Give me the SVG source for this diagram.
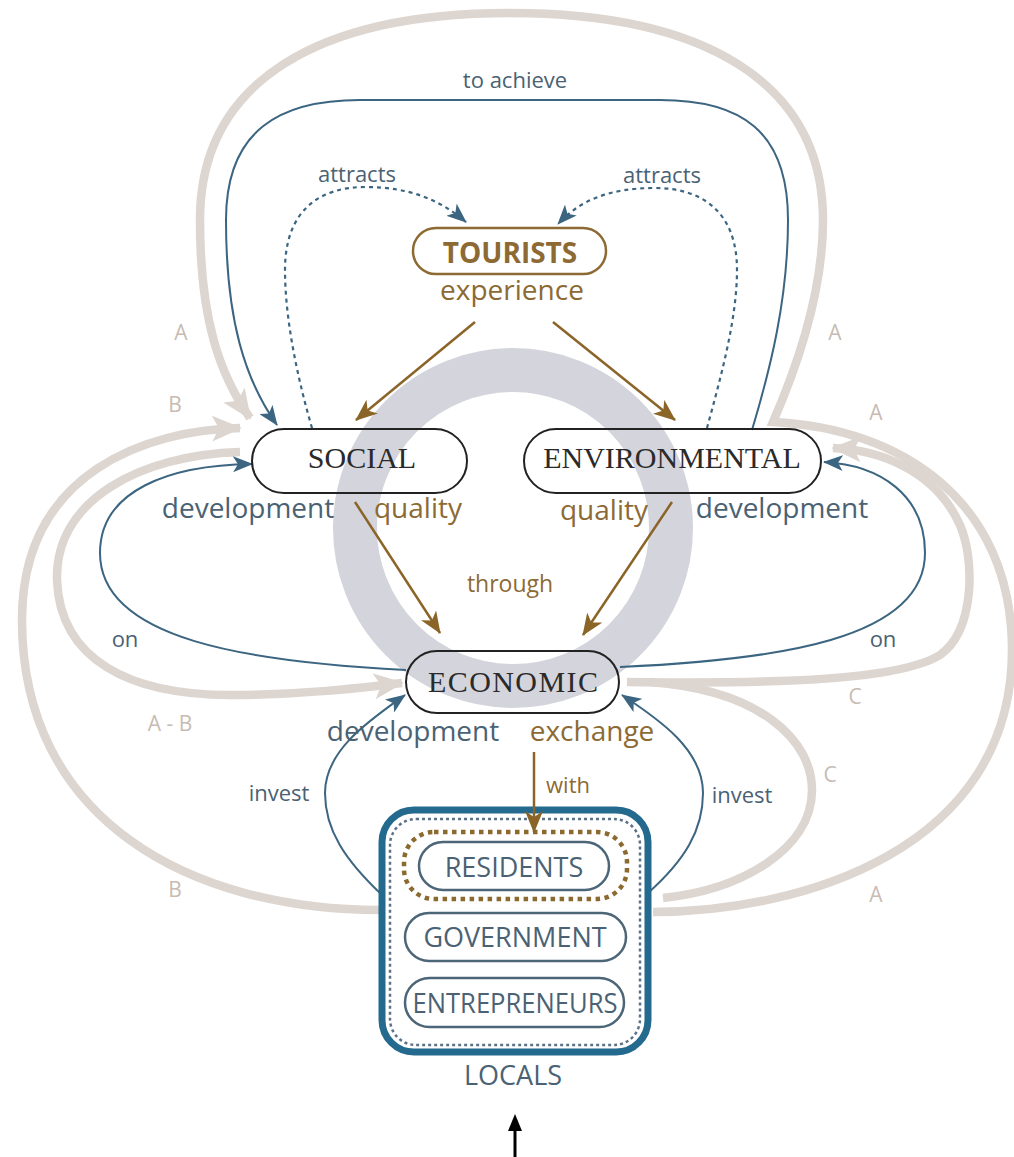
<svg xmlns="http://www.w3.org/2000/svg" width="1014" height="1157" viewBox="0 0 1014 1157">
<style>
.g{fill:none;stroke:#ddd5cf;stroke-width:8.5;stroke-linecap:butt}
.b{fill:none;stroke:#3b6580;stroke-width:2}
.bd{fill:none;stroke:#3b6580;stroke-width:2.2;stroke-dasharray:4 4}
.br{fill:none;stroke:#8b6428;stroke-width:2.5}
.node{fill:none;stroke:#222;stroke-width:2}
.nt{font-family:"Liberation Serif","Times New Roman",serif;font-size:30px;fill:#2a2a2a;text-anchor:middle}
.lb{font-family:"Open Sans","Noto Sans",sans-serif;fill:#4a6274;text-anchor:middle}
.lbr{font-family:"Open Sans","Noto Sans",sans-serif;fill:#8d6a33;text-anchor:middle}
.lg{font-family:"Open Sans","Noto Sans",sans-serif;font-size:21px;fill:#c7bbb3;text-anchor:middle}
.pill{fill:none;stroke:#4c6577;stroke-width:2.5}
.pt{font-family:"Open Sans","Noto Sans",sans-serif;font-size:27px;fill:#4a6274;text-anchor:middle}
</style>
<defs>
<marker id="ab" viewBox="0 0 20 16" refX="19" refY="8" markerWidth="20" markerHeight="16" orient="auto" markerUnits="userSpaceOnUse"><path d="M0,0 L20,8 L0,16 L5,8 Z" fill="#3b6580"/></marker>
<marker id="abr" viewBox="0 0 22 18" refX="21" refY="9" markerWidth="22" markerHeight="18" orient="auto" markerUnits="userSpaceOnUse"><path d="M0,0 L22,9 L0,18 L6,9 Z" fill="#8b6428"/></marker>
<marker id="ag" viewBox="0 0 30 26" refX="28" refY="13" markerWidth="30" markerHeight="26" orient="auto" markerUnits="userSpaceOnUse"><path d="M0,0 L30,13 L0,26 L7,13 Z" fill="#ddd5cf"/></marker>
</defs>
<rect width="1014" height="1157" fill="#fff"/>
<circle cx="513" cy="528" r="158" fill="none" stroke="#d4d4dc" stroke-width="44"/>
<g id="connectors">
<path class="g" d="M653,912 C800,912 1012,850 1012,650 C1012,500 900,428 773,422 C800,360 823,290 823,220 C823,80 700,13 510,13 C320,13 200,80 200,220 C200,320 220,375 250,418" marker-end="url(#ag)"/>
<path class="g" d="M380,910 C190,910 22,820 22,620 C22,470 150,430 240,428" marker-end="url(#ag)"/>
<path class="g" d="M240,452 C140,455 55,500 57,580 C60,660 130,695 230,695 C300,695 360,688 402,683" marker-end="url(#ag)"/>
<path class="g" d="M627,682 C780,684 900,680 940,655 C975,630 975,560 960,525 C935,470 880,450 833,448" marker-end="url(#ag)"/>
<path class="g" d="M650,682 C760,690 812,740 812,790 C812,850 740,890 663,898"/>
<path class="b" d="M752,430 C770,370 788,300 788,220 C788,130 740,100 660,100 L360,100 C280,100 226,130 226,220 C226,320 245,380 277,425" marker-end="url(#ab)"/>
<path class="bd" d="M312,428 C298,380 285,320 285,270 C285,210 320,187 365,187 C410,187 440,200 466,222" marker-end="url(#ab)"/>
<path class="bd" d="M707,428 C720,380 737,320 737,270 C737,210 700,188 655,188 C610,188 580,200 558,224" marker-end="url(#ab)"/>
<path class="b" d="M406,670 C250,662 100,640 100,553 C100,490 170,465 252,464" marker-end="url(#ab)"/>
<path class="b" d="M620,667 C775,660 925,640 925,553 C925,495 880,465 824,462" marker-end="url(#ab)"/>
<path class="b" d="M382,895 C345,860 325,830 325,793 C325,750 370,720 405,695" marker-end="url(#ab)"/>
<path class="b" d="M648,893 C685,860 703,830 703,793 C703,750 660,720 622,695" marker-end="url(#ab)"/>
<path class="br" d="M475,322 L356,420" marker-end="url(#abr)"/>
<path class="br" d="M553,322 L675,420" marker-end="url(#abr)"/>
<path class="br" d="M355,502 L440,633" marker-end="url(#abr)"/>
<path class="br" d="M672,502 L583,635" marker-end="url(#abr)"/>
<path d="M515,1157 L515,1128" stroke="#000" stroke-width="3" fill="none"/>
<path d="M515,1114 L508,1131 L522,1131 Z" fill="#000"/>
</g>
<g id="tourists">
<rect x="413" y="228" width="193" height="46" rx="23" fill="none" stroke="#8d6a33" stroke-width="2.5"/>
<text x="510" y="263" font-family="'Open Sans','Noto Sans',sans-serif" font-size="28" font-weight="bold" fill="#8d6a33" text-anchor="middle">TOURISTS</text>
</g>
<g id="social">
<rect class="node" x="252" y="429" width="215" height="64" rx="32"/>
<text class="nt" x="362" y="468">SOCIAL</text>
</g>
<g id="environmental">
<rect class="node" x="524" y="429" width="297" height="64" rx="32"/>
<text class="nt" x="672" y="468">ENVIRONMENTAL</text>
</g>
<g id="economic">
<rect class="node" x="406" y="651" width="213" height="62" rx="31"/>
<text class="nt" x="513" y="692" fill="#3d3d3d" textLength="170">ECONOMIC</text>
</g>
<g id="locals">
<rect x="382" y="810" width="266" height="242" rx="32" fill="#fff" stroke="#236a8e" stroke-width="7"/>
<rect x="390" y="819" width="250" height="226" rx="26" fill="none" stroke="#5d7287" stroke-width="2.5" stroke-dasharray="3 3"/>
<rect x="404" y="832" width="223" height="67" rx="30" fill="none" stroke="#8b6a30" stroke-width="4.5" stroke-dasharray="4.5 4.5"/>
<g id="residents"><rect class="pill" x="419" y="842" width="190" height="48" rx="24"/><text class="pt" x="514" y="877">RESIDENTS</text></g>
<g id="government"><rect class="pill" x="405" y="913" width="221" height="48" rx="24"/><text class="pt" x="515" y="947">GOVERNMENT</text></g>
<g id="entrepreneurs"><rect class="pill" x="405" y="978" width="219" height="49" rx="24.5"/><text class="pt" x="515" y="1013" textLength="205" lengthAdjust="spacingAndGlyphs">ENTREPRENEURS</text></g>
<text class="pt" x="513" y="1085">LOCALS</text>
</g>
<g id="connector-with">
<path class="br" d="M534,752 L534,832" marker-end="url(#abr)"/>
</g>
<g id="labels">
<text class="lb" x="515" y="88" font-size="22">to achieve</text>
<text class="lb" x="357" y="182" font-size="22">attracts</text>
<text class="lb" x="662" y="183" font-size="22">attracts</text>
<text class="lbr" x="512" y="300" font-size="28">experience</text>
<text class="lb" x="248" y="518" font-size="28">development</text>
<text class="lbr" x="418" y="518" font-size="28">quality</text>
<text class="lbr" x="604" y="520" font-size="28">quality</text>
<text class="lb" x="782" y="518" font-size="28">development</text>
<text class="lbr" x="510" y="592" font-size="23">through</text>
<text class="lb" x="125" y="647" font-size="22">on</text>
<text class="lb" x="883" y="647" font-size="22">on</text>
<text class="lb" x="413" y="741" font-size="28">development</text>
<text class="lbr" x="592" y="741" font-size="28">exchange</text>
<text class="lbr" x="568" y="793" font-size="22">with</text>
<text class="lb" x="279" y="801" font-size="22">invest</text>
<text class="lb" x="742" y="803" font-size="22">invest</text>
<text class="lg" x="181" y="340">A</text>
<text class="lg" x="175" y="412">B</text>
<text class="lg" x="835" y="340">A</text>
<text class="lg" x="876" y="420">A</text>
<text class="lg" x="170" y="731">A - B</text>
<text class="lg" x="175" y="897">B</text>
<text class="lg" x="855" y="704">C</text>
<text class="lg" x="830" y="782">C</text>
<text class="lg" x="876" y="902">A</text>
</g>
</svg>
